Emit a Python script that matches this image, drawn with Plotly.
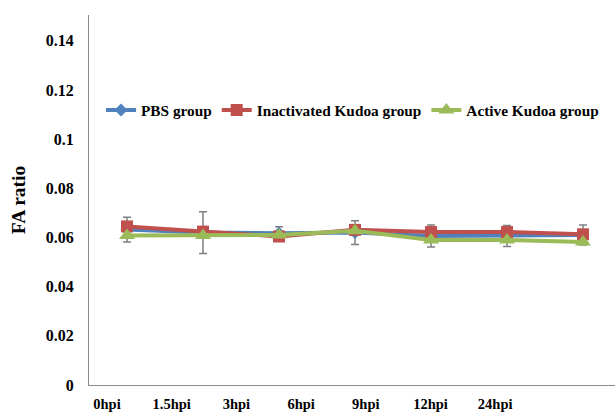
import plotly.graph_objects as go

categories = ["0hpi", "1.5hpi", "3hpi", "6hpi", "9hpi", "12hpi", "24hpi"]
pbs = [0.0632, 0.0620, 0.0617, 0.0620, 0.0606, 0.0606, 0.0610]
pbs_err = [0.0050, 0.0085, 0.0027, 0.0048, 0.0045, 0.0043, 0.0041]
inactivated = [0.0645, 0.0624, 0.0604, 0.0631, 0.0622, 0.0622, 0.0613]
active = [0.0608, 0.0608, 0.0610, 0.0627, 0.0590, 0.0590, 0.0582]
y_ticks = [0, 0.02, 0.04, 0.06, 0.08, 0.1, 0.12, 0.14]

FONT = "'Liberation Serif', 'Times New Roman', serif"
W, H = 615, 412
L, R, T, B = 89, 0, 15, 27
plot_w = W - L - R
cat_px = 76.0      # spacing of the data points
lab_px = 64.7      # spacing of the category labels
lab_first = 107 - L  # first label centre, px from plot left

fig = go.Figure()
fig.add_trace(go.Scatter(
    x=categories, y=pbs, name="PBS group", mode="lines+markers",
    line=dict(color="#4F81BD", width=4),
    marker=dict(symbol="diamond", size=10, color="#4F81BD"),
    error_y=dict(type="data", array=pbs_err, visible=True, color="#7F7F7F",
                 thickness=1.5, width=4),
))
fig.add_trace(go.Scatter(
    x=categories, y=inactivated, name="Inactivated Kudoa group", mode="lines+markers",
    line=dict(color="#C0504D", width=4),
    marker=dict(symbol="square", size=12, color="#C0504D"),
))
fig.add_trace(go.Scatter(
    x=categories, y=active, name="Active Kudoa group", mode="lines+markers",
    line=dict(color="#9BBB59", width=4),
    marker=dict(symbol="triangle-up", size=14, color="#9BBB59"),
))
# invisible trace carrying the category label axis
fig.add_trace(go.Scatter(
    x=categories, y=[None] * len(categories), xaxis="x2", showlegend=False,
    hoverinfo="skip", mode="lines",
))

r0 = -0.5
r1 = r0 + plot_w / cat_px
l0 = -lab_first / lab_px
l1 = l0 + plot_w / lab_px

fig.update_layout(
    width=W, height=H,
    margin=dict(l=L, r=R, t=T, b=B, autoexpand=False),
    paper_bgcolor="white", plot_bgcolor="white",
    font=dict(family=FONT, color="black"),
    showlegend=True,
    legend=dict(
        orientation="h", x=(101 - L) / plot_w, y=(H - B - 110) / (H - T - B),
        xanchor="left", yanchor="middle",
        font=dict(family=FONT, size=15.3, color="black", weight="bold"),
        bgcolor="rgba(0,0,0,0)", itemwidth=30, tracegroupgap=0,
    ),
    xaxis=dict(
        type="category", range=[r0, r1], showticklabels=False, ticks="",
        showline=True, linecolor="#8C8C8C", linewidth=1, showgrid=False,
        zeroline=False, automargin=False,
    ),
    xaxis2=dict(
        type="category", overlaying="x", side="bottom", range=[l0, l1],
        showline=False, showgrid=False, zeroline=False, ticks="",
        tickfont=dict(family=FONT, size=14.5, color="black", weight="bold"),
        ticklabelstandoff=8, automargin=False,
    ),
    yaxis=dict(
        range=[0, 0.1505], tickvals=y_ticks, tickformat="~g",
        showline=True, linecolor="#8C8C8C", linewidth=1, showgrid=False,
        zeroline=False, ticks="",
        tickfont=dict(family=FONT, size=16, color="black", weight="bold"),
        ticklabelstandoff=11, automargin=False,
        title=dict(text="FA ratio", font=dict(family=FONT, size=19.5, color="black",
                                              weight="bold"), standoff=14),
    ),
)

fig.write_html("out.html")
